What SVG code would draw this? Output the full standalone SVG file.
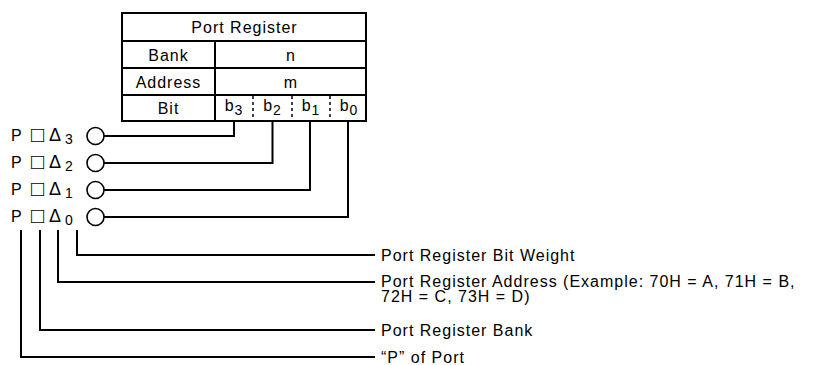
<svg xmlns="http://www.w3.org/2000/svg" width="828" height="365" viewBox="0 0 828 365">
<style>
  .t{font-family:"Liberation Sans","DejaVu Sans",Arial,sans-serif;font-size:16px;fill:#000;letter-spacing:1px}
  .c{text-anchor:middle}
  .sub{font-size:14px}
  .sq{font-size:22px;letter-spacing:0}
  .dt{font-size:18px;letter-spacing:0}
  .ln{fill:none;stroke:#000;stroke-width:2}
  .dl{fill:none;stroke:#000;stroke-width:1.5;stroke-dasharray:3,3}
  .pin{fill:#fff;stroke:#000;stroke-width:1.6}
</style>
<rect width="828" height="365" fill="#fff"/>
<g id="port-register">
  <rect x="122" y="13" width="244" height="108" class="ln"/>
  <path class="ln" d="M122 41H366M122 68H366M122 95H366M215 41V121"/>
  <path class="dl" d="M253 96V121M292 96V121M330 96V121"/>
  <text class="t c" x="244.5" y="33">Port Register</text>
  <text class="t c" x="168.5" y="60.5">Bank</text>
  <text class="t c" x="291" y="60.5">n</text>
  <text class="t c" x="168.5" y="87.5">Address</text>
  <text class="t c" x="291" y="87.5">m</text>
  <text class="t c" x="168.5" y="113.5">Bit</text>
  <text class="t c" x="234" y="111">b<tspan class="sub" dy="4">3</tspan></text>
  <text class="t c" x="272.5" y="111">b<tspan class="sub" dy="4">2</tspan></text>
  <text class="t c" x="311" y="111">b<tspan class="sub" dy="4">1</tspan></text>
  <text class="t c" x="349" y="111">b<tspan class="sub" dy="4">0</tspan></text>
</g>
<g id="pin3">
  <text class="t" y="141"><tspan x="11">P</tspan><tspan class="sq" x="31" dy="1">□</tspan><tspan class="dt" x="49" dy="-1">Δ</tspan><tspan class="sub" x="65" dy="3">3</tspan></text>
  <circle class="pin" cx="95.5" cy="136" r="8.5"/>
</g>
<g id="pin2">
  <text class="t" y="168"><tspan x="11">P</tspan><tspan class="sq" x="31" dy="1">□</tspan><tspan class="dt" x="49" dy="-1">Δ</tspan><tspan class="sub" x="65" dy="3">2</tspan></text>
  <circle class="pin" cx="95.5" cy="163" r="8.5"/>
</g>
<g id="pin1">
  <text class="t" y="195"><tspan x="11">P</tspan><tspan class="sq" x="31" dy="1">□</tspan><tspan class="dt" x="49" dy="-1">Δ</tspan><tspan class="sub" x="65" dy="3">1</tspan></text>
  <circle class="pin" cx="95.5" cy="190" r="8.5"/>
</g>
<g id="pin0">
  <text class="t" y="222"><tspan x="11">P</tspan><tspan class="sq" x="31" dy="1">□</tspan><tspan class="dt" x="49" dy="-1">Δ</tspan><tspan class="sub" x="65" dy="3">0</tspan></text>
  <circle class="pin" cx="95.5" cy="217" r="8.5"/>
</g>
<g id="legend">
  <text class="t" x="381" y="260.5">Port Register Bit Weight</text>
  <text class="t" x="381" y="287">Port Register Address (Example:  70H = A, 71H = B,</text>
  <text class="t" x="381" y="302">72H = C, 73H = D)</text>
  <text class="t" x="381" y="336">Port Register Bank</text>
  <text class="t" x="381" y="363">“P” of Port</text>
</g>
<g id="connectors">
  <path class="ln" d="M104 136H234V121"/>
  <path class="ln" d="M104 163H272.5V121"/>
  <path class="ln" d="M104 190H310V121"/>
  <path class="ln" d="M104 217H348V121"/>
  <path class="ln" d="M77 230V255H375"/>
  <path class="ln" d="M58 230V282H375"/>
  <path class="ln" d="M40 230V330H375"/>
  <path class="ln" d="M21 230V357H375"/>
</g>
</svg>
